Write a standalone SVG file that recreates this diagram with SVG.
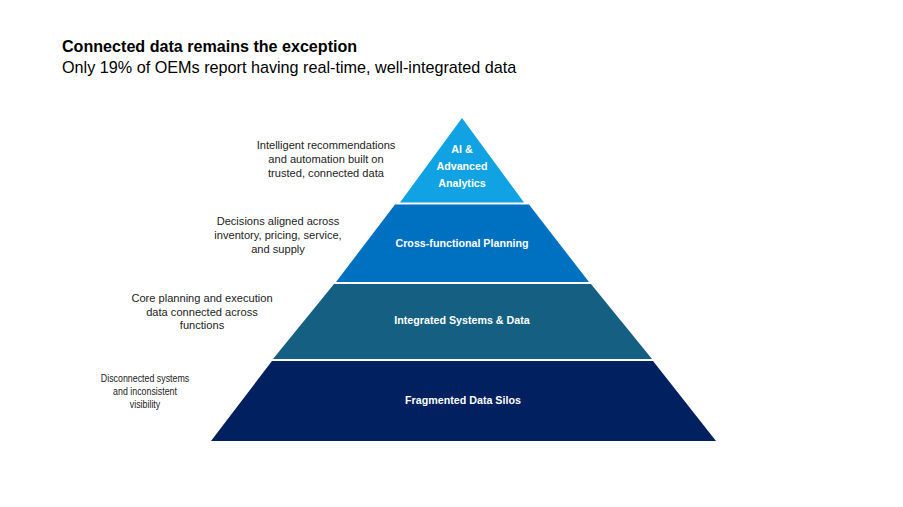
<svg xmlns="http://www.w3.org/2000/svg" width="903" height="507" viewBox="0 0 903 507">
<style>
.title{font-family:"Liberation Sans",Arial,sans-serif;font-weight:bold;font-size:16.1px;fill:#000}
.sub{font-family:"Liberation Sans",Arial,sans-serif;font-size:16.2px;fill:#000}
.lbl{font-family:"Liberation Sans",Arial,sans-serif;font-size:11.1px;fill:#222;text-anchor:middle}
.lbl-n{font-family:"Liberation Sans",Arial,sans-serif;font-size:10.8px;fill:#222;text-anchor:middle}
.tier{font-family:"Liberation Sans",Arial,sans-serif;font-size:10.7px;font-weight:bold;fill:#fff;text-anchor:middle}
</style>
<rect width="903" height="507" fill="#fff"/>
<text class="title" x="62" y="52">Connected data remains the exception</text>
<text class="sub" x="62" y="73">Only 19% of OEMs report having real-time, well-integrated data</text>
<g id="connectors"></g>
<g id="tier-ai">
<polygon points="462,118 524,202.5 400,202.5" fill="#10A2E2"/>
<text class="tier" x="462" y="153">AI &amp;</text>
<text class="tier" x="462" y="170">Advanced</text>
<text class="tier" x="462" y="187">Analytics</text>
</g>
<g id="tier-planning">
<polygon points="395,204.5 529,204.5 589,282 336,282" fill="#0070C0"/>
<text class="tier" x="462" y="247">Cross-functional Planning</text>
</g>
<g id="tier-integrated">
<polygon points="334,284 591,284 652,359 273,359" fill="#156082"/>
<text class="tier" x="462" y="324">Integrated Systems &amp; Data</text>
</g>
<g id="tier-silos">
<polygon points="272,361 653,361 716,441 211,441" fill="#002060"/>
<text class="tier" x="463" y="404">Fragmented Data Silos</text>
</g>
<g id="label-ai">
<text class="lbl" x="326" y="149">Intelligent recommendations</text>
<text class="lbl" x="326" y="163">and automation built on</text>
<text class="lbl" x="326" y="177">trusted, connected data</text>
</g>
<g id="label-planning">
<text class="lbl" x="278" y="225">Decisions aligned across</text>
<text class="lbl" x="278" y="239">inventory, pricing, service,</text>
<text class="lbl" x="278" y="253">and supply</text>
</g>
<g id="label-integrated">
<text class="lbl" x="202" y="302">Core planning and execution</text>
<text class="lbl" x="202" y="316">data connected across</text>
<text class="lbl" x="202" y="329">functions</text>
</g>
<g id="label-silos" transform="translate(145 0) scale(0.82 1)">
<text class="lbl-n" x="0" y="382">Disconnected systems</text>
<text class="lbl-n" x="0" y="395">and inconsistent</text>
<text class="lbl-n" x="0" y="408">visibility</text>
</g>
</svg>
